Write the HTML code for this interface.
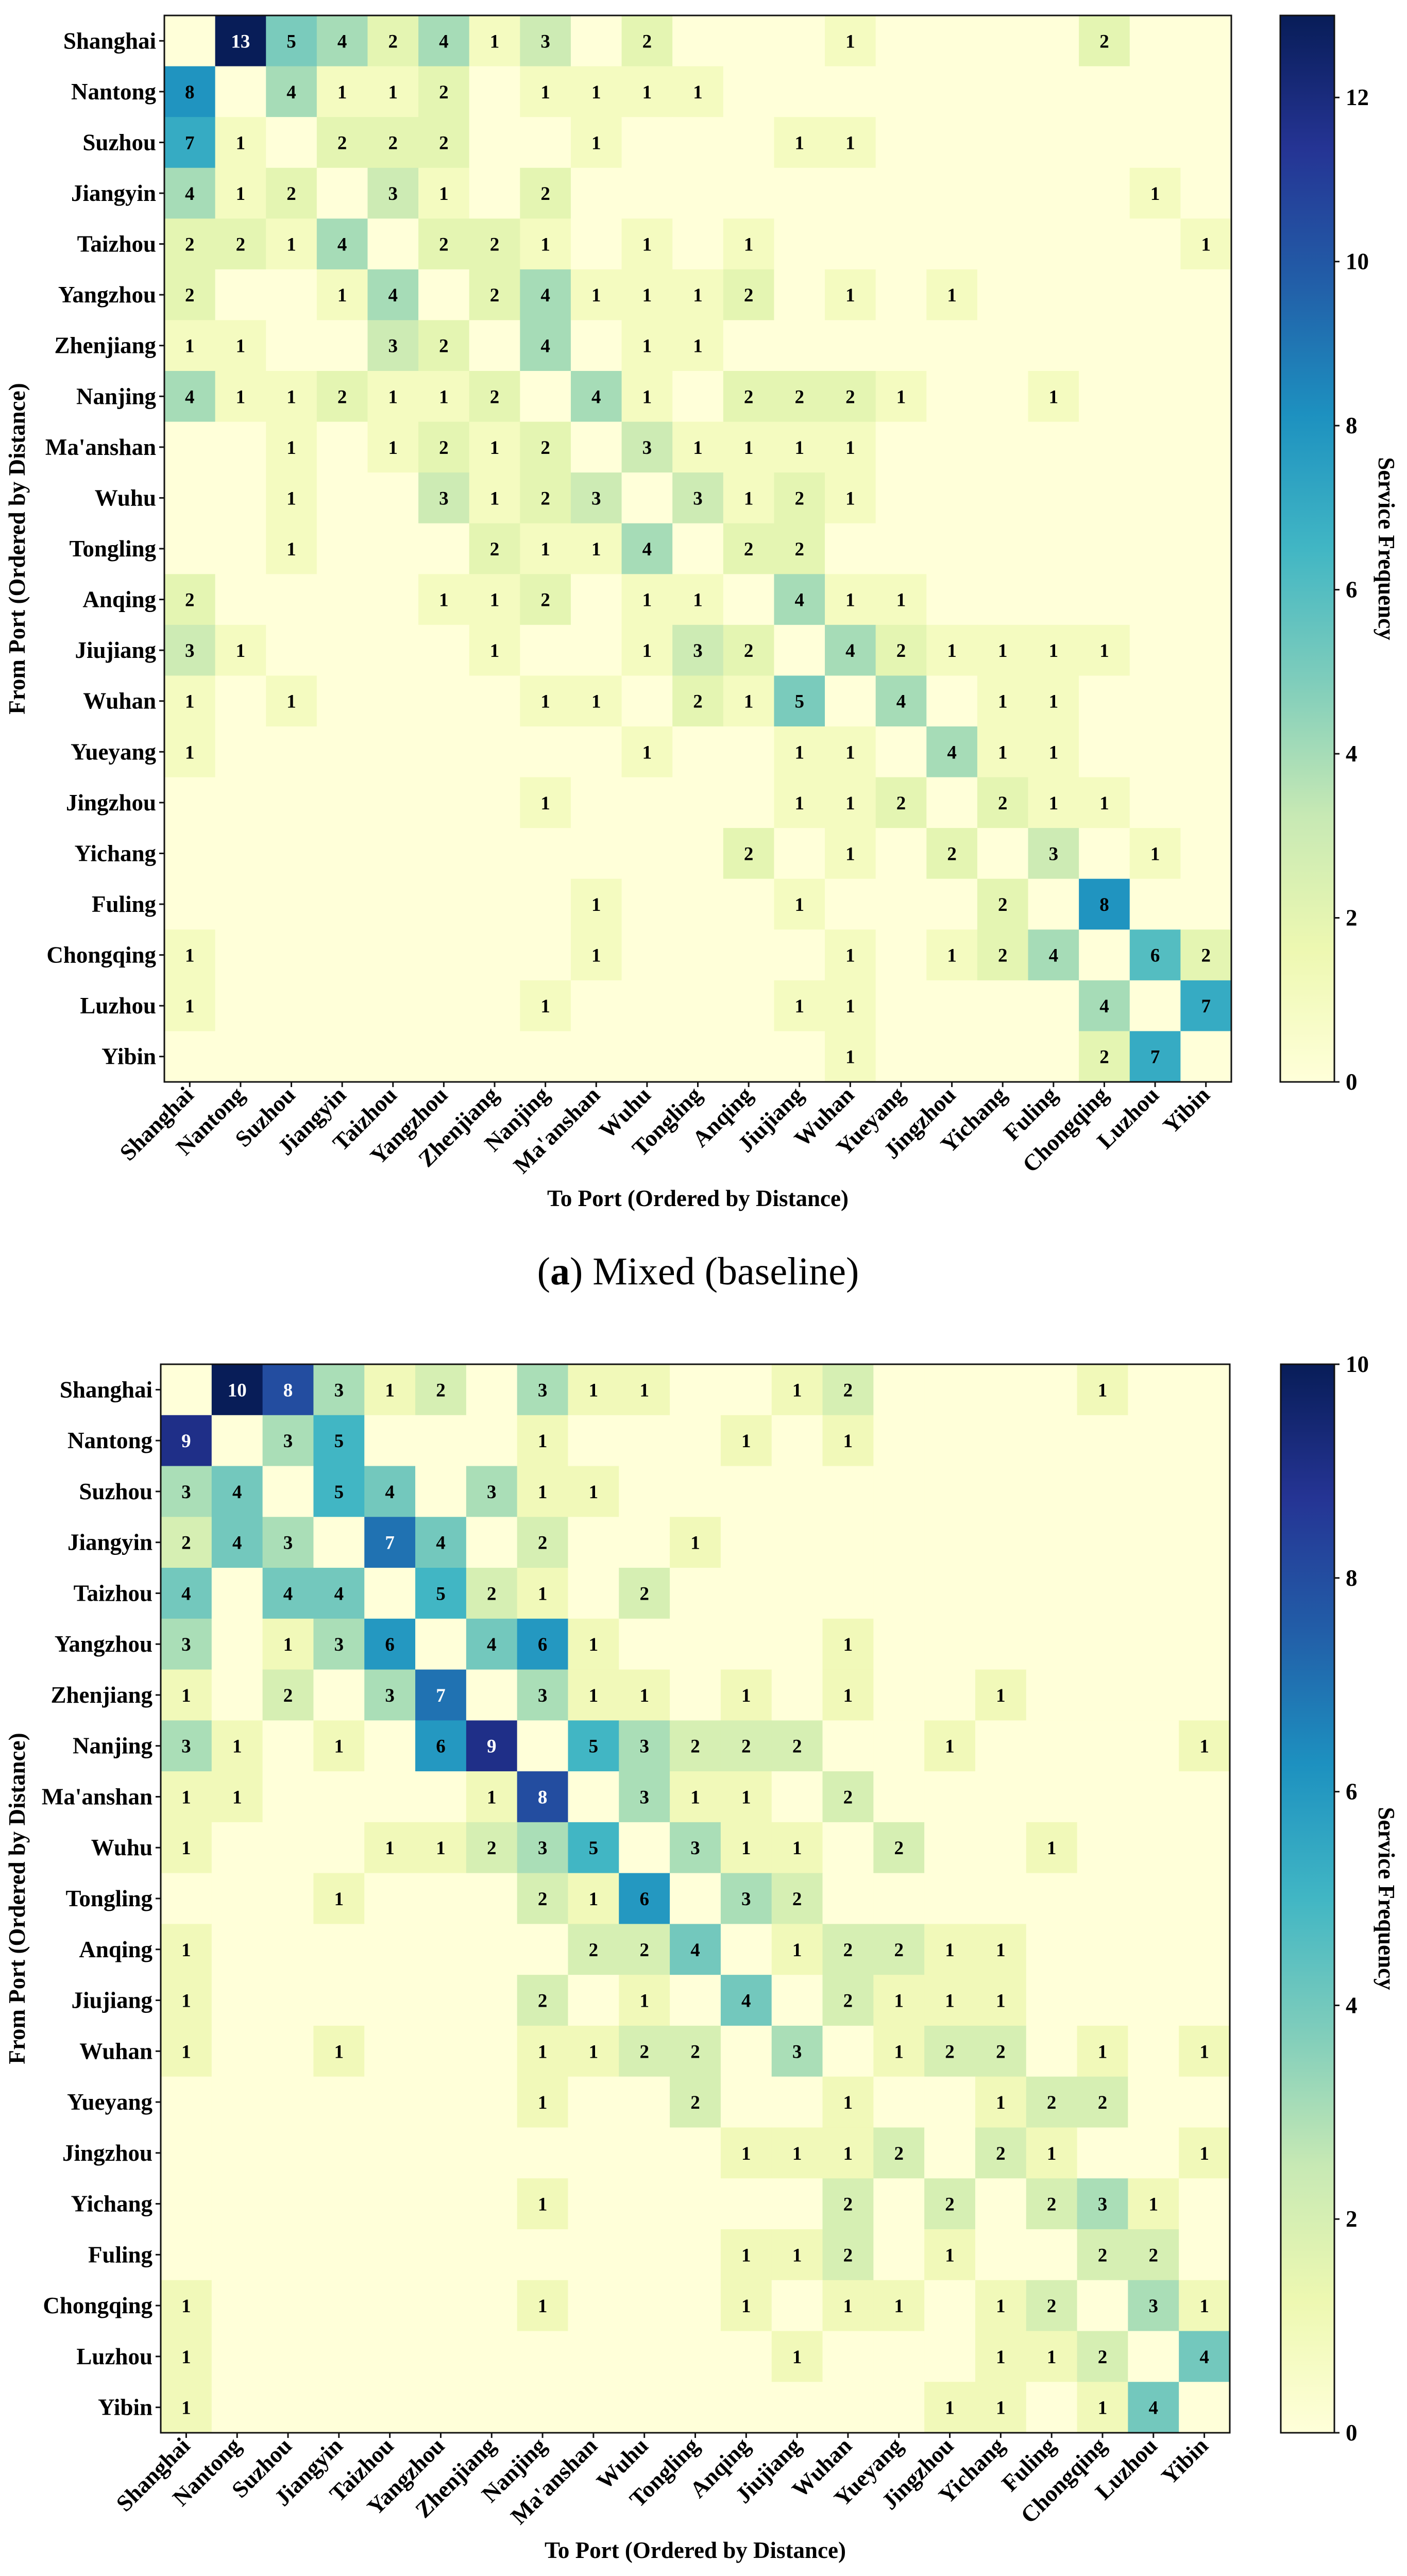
<!DOCTYPE html>
<html><head><meta charset="utf-8"><style>
html,body{margin:0;padding:0;background:#fff;width:2731px;height:5160px;overflow:hidden;}
svg{display:block;}
text{font-family:"Liberation Serif",serif;}
</style></head><body>
<svg id="fig" width="2731" height="5160" viewBox="0 0 2731 5160" xmlns="http://www.w3.org/2000/svg">
<defs>
<linearGradient id="cbgrad" x1="0" y1="1" x2="0" y2="0">
<stop offset="0" stop-color="#ffffd9"/><stop offset="0.125" stop-color="#edf8b1"/><stop offset="0.25" stop-color="#c7e9b4"/><stop offset="0.375" stop-color="#7fcdbb"/><stop offset="0.5" stop-color="#41b6c4"/><stop offset="0.625" stop-color="#1d91c0"/><stop offset="0.75" stop-color="#225ea8"/><stop offset="0.875" stop-color="#253494"/><stop offset="1" stop-color="#081d58"/>
</linearGradient>
</defs>
</svg>
<script>
const ports = ["Shanghai","Nantong","Suzhou","Jiangyin","Taizhou","Yangzhou","Zhenjiang","Nanjing","Ma'anshan","Wuhu","Tongling","Anqing","Jiujiang","Wuhan","Yueyang","Jingzhou","Yichang","Fuling","Chongqing","Luzhou","Yibin"];
const mixedValues = [
[0,13,5,4,2,4,1,3,0,2,0,0,0,1,0,0,0,0,2,0,0],
[8,0,4,1,1,2,0,1,1,1,1,0,0,0,0,0,0,0,0,0,0],
[7,1,0,2,2,2,0,0,1,0,0,0,1,1,0,0,0,0,0,0,0],
[4,1,2,0,3,1,0,2,0,0,0,0,0,0,0,0,0,0,0,1,0],
[2,2,1,4,0,2,2,1,0,1,0,1,0,0,0,0,0,0,0,0,1],
[2,0,0,1,4,0,2,4,1,1,1,2,0,1,0,1,0,0,0,0,0],
[1,1,0,0,3,2,0,4,0,1,1,0,0,0,0,0,0,0,0,0,0],
[4,1,1,2,1,1,2,0,4,1,0,2,2,2,1,0,0,1,0,0,0],
[0,0,1,0,1,2,1,2,0,3,1,1,1,1,0,0,0,0,0,0,0],
[0,0,1,0,0,3,1,2,3,0,3,1,2,1,0,0,0,0,0,0,0],
[0,0,1,0,0,0,2,1,1,4,0,2,2,0,0,0,0,0,0,0,0],
[2,0,0,0,0,1,1,2,0,1,1,0,4,1,1,0,0,0,0,0,0],
[3,1,0,0,0,0,1,0,0,1,3,2,0,4,2,1,1,1,1,0,0],
[1,0,1,0,0,0,0,1,1,0,2,1,5,0,4,0,1,1,0,0,0],
[1,0,0,0,0,0,0,0,0,1,0,0,1,1,0,4,1,1,0,0,0],
[0,0,0,0,0,0,0,1,0,0,0,0,1,1,2,0,2,1,1,0,0],
[0,0,0,0,0,0,0,0,0,0,0,2,0,1,0,2,0,3,0,1,0],
[0,0,0,0,0,0,0,0,1,0,0,0,1,0,0,0,2,0,8,0,0],
[1,0,0,0,0,0,0,0,1,0,0,0,0,1,0,1,2,4,0,6,2],
[1,0,0,0,0,0,0,1,0,0,0,0,1,1,0,0,0,0,4,0,7],
[0,0,0,0,0,0,0,0,0,0,0,0,0,1,0,0,0,0,2,7,0]
];
const fuelValues = [
[0,10,8,3,1,2,0,3,1,1,0,0,1,2,0,0,0,0,1,0,0],
[9,0,3,5,0,0,0,1,0,0,0,1,0,1,0,0,0,0,0,0,0],
[3,4,0,5,4,0,3,1,1,0,0,0,0,0,0,0,0,0,0,0,0],
[2,4,3,0,7,4,0,2,0,0,1,0,0,0,0,0,0,0,0,0,0],
[4,0,4,4,0,5,2,1,0,2,0,0,0,0,0,0,0,0,0,0,0],
[3,0,1,3,6,0,4,6,1,0,0,0,0,1,0,0,0,0,0,0,0],
[1,0,2,0,3,7,0,3,1,1,0,1,0,1,0,0,1,0,0,0,0],
[3,1,0,1,0,6,9,0,5,3,2,2,2,0,0,1,0,0,0,0,1],
[1,1,0,0,0,0,1,8,0,3,1,1,0,2,0,0,0,0,0,0,0],
[1,0,0,0,1,1,2,3,5,0,3,1,1,0,2,0,0,1,0,0,0],
[0,0,0,1,0,0,0,2,1,6,0,3,2,0,0,0,0,0,0,0,0],
[1,0,0,0,0,0,0,0,2,2,4,0,1,2,2,1,1,0,0,0,0],
[1,0,0,0,0,0,0,2,0,1,0,4,0,2,1,1,1,0,0,0,0],
[1,0,0,1,0,0,0,1,1,2,2,0,3,0,1,2,2,0,1,0,1],
[0,0,0,0,0,0,0,1,0,0,2,0,0,1,0,0,1,2,2,0,0],
[0,0,0,0,0,0,0,0,0,0,0,1,1,1,2,0,2,1,0,0,1],
[0,0,0,0,0,0,0,1,0,0,0,0,0,2,0,2,0,2,3,1,0],
[0,0,0,0,0,0,0,0,0,0,0,1,1,2,0,1,0,0,2,2,0],
[1,0,0,0,0,0,0,1,0,0,0,1,0,1,1,0,1,2,0,3,1],
[1,0,0,0,0,0,0,0,0,0,0,0,1,0,0,0,1,1,2,0,4],
[1,0,0,0,0,0,0,0,0,0,0,0,0,0,0,1,1,0,1,4,0]
];
const mixedTicks = [0,2,4,6,8,10,12];
const fuelTicks = [0,2,4,6,8,10];
const mixedMax = 13;
const fuelMax = 10;
const captionA = "Mixed (baseline)";
const captionB = "Fuel-Only";

const NS = "http://www.w3.org/2000/svg";
const svg = document.getElementById('fig');
const stops = [[255,255,217],[237,248,177],[199,233,180],[127,205,187],[65,182,196],[29,145,192],[34,94,168],[37,52,148],[8,29,88]];
function cmap(t){
  t = Math.max(0, Math.min(1, t));
  const p = t*8, i = Math.min(7, Math.floor(p)), f = p - i;
  const a = stops[i], b = stops[i+1];
  return 'rgb(' + a.map((v,k)=>Math.round(v+(b[k]-v)*f)).join(',') + ')';
}
function mk(tag, attrs, parent){
  const e = document.createElementNS(NS, tag);
  for (const k in attrs) e.setAttribute(k, attrs[k]);
  (parent||svg).appendChild(e);
  return e;
}
function drawPanel(values, vmax, ticks, x0, y0, x1, y1, cbx0, cbx1, letter, caption, capY, xTitleY, key){
  const g = mk('g', {});
  
  
  const n = ports.length;
  const cw = (x1-x0)/n, ch = (y1-y0)/n;
  const xs = i => x0 + i*cw;
  const ys = j => y0 + j*ch;
  for (let r=0;r<n;r++){
    for (let c=0;c<n;c++){
      const v = values[r][c];
      const rect = mk('rect', {x:xs(c), y:ys(r), width:cw+0.6, height:ch+0.6, fill:cmap(v/vmax)}, g);
      
      
      if (v>0){
        const t = mk('text', {x:xs(c)+cw/2, y:ys(r)+ch/2+13, 'text-anchor':'middle', 'font-size':37, 'font-weight':'bold', fill:(v/vmax>0.65?'#fff':'#000')}, g);
        t.textContent = v;
        
        
      }
    }
  }
  const frame = mk('rect', {x:x0, y:y0, width:x1-x0, height:y1-y0, fill:'none', stroke:'#111', 'stroke-width':3}, g);
  
  
  for (let i=0;i<n;i++){
    const cy = ys(i)+ch/2;
    mk('line', {x1:x0-10, y1:cy, x2:x0, y2:cy, stroke:'#111', 'stroke-width':3}, g);
    const yl = mk('text', {x:x0-16, y:cy+15, 'text-anchor':'end', 'font-size':45, 'font-weight':'bold'}, g);
    yl.textContent = ports[i];
    
    
    const cx = xs(i)+cw/2;
    mk('line', {x1:cx, y1:y1, x2:cx, y2:y1+10, stroke:'#111', 'stroke-width':3}, g);
    const xl = mk('text', {x:cx+10, y:y1+28, 'text-anchor':'end', 'font-size':45, 'font-weight':'bold', transform:'rotate(-45 '+(cx+10)+' '+(y1+28)+')'}, g);
    xl.textContent = ports[i];
    
    
  }
  const xt = mk('text', {x:(x0+x1)/2, y:xTitleY, 'text-anchor':'middle', 'font-size':45, 'font-weight':'bold'}, g);
  xt.textContent = 'To Port (Ordered by Distance)';
  
  
  const ymid = (y0+y1)/2;
  const yt = mk('text', {x:48, y:ymid, 'text-anchor':'middle', 'font-size':45, 'font-weight':'bold', transform:'rotate(-90 48 '+ymid+')'}, g);
  yt.textContent = 'From Port (Ordered by Distance)';
  
  
  const cb = mk('rect', {x:cbx0, y:y0, width:cbx1-cbx0, height:y1-y0, fill:'url(#cbgrad)', stroke:'#111', 'stroke-width':3}, g);
  
  
  const cs = v => y1 - v/vmax*(y1-y0);
  ticks.forEach(tv=>{
    const ty = cs(tv);
    mk('line', {x1:cbx1, y1:ty, x2:cbx1+10, y2:ty, stroke:'#111', 'stroke-width':3}, g);
    const tl = mk('text', {x:cbx1+22, y:ty+15, 'font-size':45, 'font-weight':'bold'}, g);
    tl.textContent = tv;
    
    
  });
  const ctx = 2676;
  const ct = mk('text', {x:ctx, y:ymid, 'text-anchor':'middle', 'font-size':45, 'font-weight':'bold', transform:'rotate(90 '+ctx+' '+ymid+')'}, g);
  ct.textContent = 'Service Frequency';
  
  
  const cap = mk('text', {x:1355, y:capY, 'text-anchor':'middle', 'font-size':76}, g);
  
  
  const t1 = mk('tspan', {}, cap); t1.textContent = '(';
  const t2 = mk('tspan', {'font-weight':'bold'}, cap); t2.textContent = letter;
  const t3 = mk('tspan', {}, cap); t3.textContent = ') ' + caption;
}
drawPanel(mixedValues, mixedMax, mixedTicks, 319, 30, 2390, 2100, 2485, 2590, 'a', captionA, 2493, 2341, 'mixed');
drawPanel(fuelValues, fuelMax, fuelTicks, 312, 2648, 2387, 4722, 2486, 2590, 'b', captionB, 5113, 4965, 'fuel');
</script>
</body></html>
